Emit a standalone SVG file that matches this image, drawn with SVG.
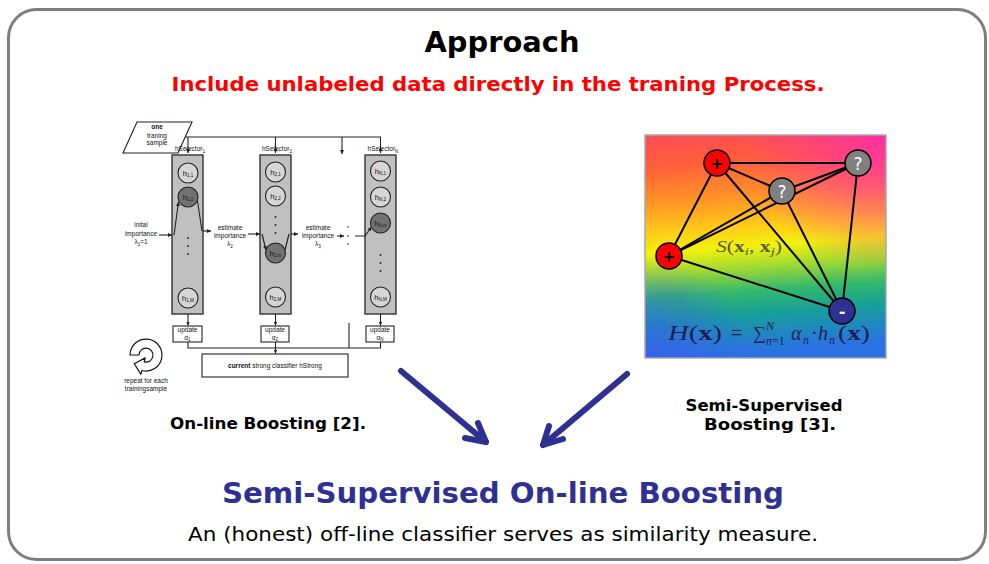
<svg xmlns="http://www.w3.org/2000/svg" width="989" height="564" viewBox="0 0 989 564">
<style>
  .head { font-family: "DejaVu Sans", Verdana, sans-serif; font-weight: bold; text-anchor: middle; }
  .body { font-family: "DejaVu Sans", Verdana, sans-serif; text-anchor: middle; }
  .sm { font-family: "Liberation Sans", Arial, sans-serif; font-size: 6.5px; fill: #111; text-anchor: middle; }
  .hl { font-family: "Liberation Sans", Arial, sans-serif; font-size: 7.5px; fill: #111; text-anchor: middle; }
  .sub { font-size: 4.6px; }
  .col { fill: #c0c0c0; stroke: #333; stroke-width: 1.4; }
  .wk { fill: #d6d6d6; stroke: #222; stroke-width: 1.1; }
  .wkd { fill: #727272; stroke: #222; stroke-width: 1.1; }
  .box { fill: #fff; stroke: #222; stroke-width: 1.1; }
  .ln { fill: none; stroke: #222; stroke-width: 1.1; }
  .dot { fill: #222; }
  .edge { stroke: #000; stroke-width: 2; fill: none; }
  .nd { stroke: #000; stroke-width: 1.5; }
  .ndt { font-family: "DejaVu Sans", Verdana, sans-serif; font-weight: bold; text-anchor: middle; }
  .ndq { font-family: "DejaVu Sans", Verdana, sans-serif; text-anchor: middle; fill: #fff; font-size: 17px; }
  .math { font-family: "Liberation Serif", "DejaVu Serif", serif; }
  .big { fill: none; stroke: #2e3192; stroke-width: 6; stroke-linecap: round; stroke-linejoin: round; }
</style>
<defs>
  <marker id="ah" viewBox="0 0 6 6" refX="6" refY="3" markerWidth="4" markerHeight="4" markerUnits="userSpaceOnUse" orient="auto">
    <path d="M0,0 L6,3 L0,6 Z" fill="#222"/>
  </marker>
  <linearGradient id="rainbow" x1="0" y1="0" x2="0.08" y2="1">
    <stop offset="0" stop-color="#ff4c55"/>
    <stop offset="0.14" stop-color="#ff5e3a"/>
    <stop offset="0.3" stop-color="#ff9228"/>
    <stop offset="0.44" stop-color="#ffcc18"/>
    <stop offset="0.53" stop-color="#f2f20c"/>
    <stop offset="0.63" stop-color="#9cd836"/>
    <stop offset="0.73" stop-color="#33b86c"/>
    <stop offset="0.84" stop-color="#169e9c"/>
    <stop offset="1" stop-color="#2a72e4"/>
  </linearGradient>
  <radialGradient id="pink" cx="1" cy="0" r="0.6">
    <stop offset="0" stop-color="#ff2ea8" stop-opacity="0.95"/>
    <stop offset="1" stop-color="#ff2ea8" stop-opacity="0"/>
  </radialGradient>
  <radialGradient id="blue" cx="0" cy="1" r="0.45">
    <stop offset="0" stop-color="#3a5cf0" stop-opacity="0.8"/>
    <stop offset="1" stop-color="#3a5cf0" stop-opacity="0"/>
  </radialGradient>
</defs>

<rect width="989" height="564" fill="#fff"/>

<!-- slide frame -->
<rect id="frame" x="8.5" y="9.5" width="977" height="550" rx="28" fill="#fff" stroke="#7f7f7f" stroke-width="3"/>

<!-- headings -->
<g id="title">
  <text class="head" x="502" y="52" font-size="29" fill="#000" textLength="155" lengthAdjust="spacingAndGlyphs">Approach</text>
  <text class="head" x="498" y="91" font-size="20" fill="#ff0000" textLength="653" lengthAdjust="spacingAndGlyphs">Include unlabeled data directly in the traning Process.</text>
</g>

<!-- on-line boosting scheme -->
<g id="online-boosting">
  <g id="sample">
    <polygon points="137,122 192,122 178,153 123,153" class="box"/>
    <text class="sm" x="157" y="129" font-weight="bold">one</text>
    <text class="sm" x="157" y="137.5">traning</text>
    <text class="sm" x="157" y="145">sample</text>
  </g>

  <g id="selector-1">
    <rect class="col" x="172" y="155" width="31" height="159"/>
    <circle class="wk" cx="188" cy="173" r="10"/>
    <text class="hl" x="188" y="175.5">h<tspan class="sub" dy="1.5">1,1</tspan></text>
    <circle class="wkd" cx="188" cy="197" r="10"/>
    <text class="hl" x="188" y="199.5">h<tspan class="sub" dy="1.5">1,2</tspan></text>
    <circle class="dot" cx="188" cy="238" r="0.9"/>
    <circle class="dot" cx="188" cy="246" r="0.9"/>
    <circle class="dot" cx="188" cy="254" r="0.9"/>
    <circle class="wk" cx="188" cy="298" r="10"/>
    <text class="hl" x="188" y="300.5">h<tspan class="sub" dy="1.5">1,M</tspan></text>
    <text class="sm" x="190" y="151" text-anchor="start">hSelector<tspan class="sub" dy="1.5">1</tspan></text>
  </g>

  <g id="selector-2">
    <rect class="col" x="260" y="155" width="31" height="159"/>
    <circle class="wk" cx="275.5" cy="172" r="10"/>
    <text class="hl" x="275.5" y="174.5">h<tspan class="sub" dy="1.5">2,1</tspan></text>
    <circle class="wk" cx="275.5" cy="196" r="10"/>
    <text class="hl" x="275.5" y="198.5">h<tspan class="sub" dy="1.5">2,2</tspan></text>
    <circle class="dot" cx="275.5" cy="217" r="0.9"/>
    <circle class="dot" cx="275.5" cy="225" r="0.9"/>
    <circle class="dot" cx="275.5" cy="233" r="0.9"/>
    <circle class="wkd" cx="275.5" cy="253" r="10"/>
    <text class="hl" x="275.5" y="255.5">h<tspan class="sub" dy="1.5">2,m</tspan></text>
    <circle class="wk" cx="275.5" cy="297" r="10"/>
    <text class="hl" x="275.5" y="299.5">h<tspan class="sub" dy="1.5">2,M</tspan></text>
    <text class="sm" x="277" y="151" text-anchor="start">hSelector<tspan class="sub" dy="1.5">2</tspan></text>
  </g>

  <g id="selector-n">
    <rect class="col" x="365" y="155" width="31" height="159"/>
    <circle class="wk" cx="380.5" cy="171" r="10"/>
    <text class="hl" x="380.5" y="173.5">h<tspan class="sub" dy="1.5">N,1</tspan></text>
    <circle class="wk" cx="380.5" cy="197" r="10"/>
    <text class="hl" x="380.5" y="199.5">h<tspan class="sub" dy="1.5">N,2</tspan></text>
    <circle class="wkd" cx="380.5" cy="223" r="10"/>
    <text class="hl" x="380.5" y="225.5">h<tspan class="sub" dy="1.5">N,m</tspan></text>
    <circle class="dot" cx="380.5" cy="255" r="0.9"/>
    <circle class="dot" cx="380.5" cy="263" r="0.9"/>
    <circle class="dot" cx="380.5" cy="271" r="0.9"/>
    <circle class="wk" cx="380.5" cy="297" r="10"/>
    <text class="hl" x="380.5" y="299.5">h<tspan class="sub" dy="1.5">N,M</tspan></text>
    <text class="sm" x="383" y="151" text-anchor="start">hSelector<tspan class="sub" dy="1.5">N</tspan></text>
  </g>

  <g id="importance-labels">
    <text class="sm" x="141" y="227">inital</text>
    <text class="sm" x="141" y="235.5">importance</text>
    <text class="sm" x="141" y="244">λ<tspan class="sub" dy="1.5">1</tspan><tspan dy="-1.5">=1</tspan></text>
    <text class="sm" x="230" y="230">estimate</text>
    <text class="sm" x="230" y="238">importance</text>
    <text class="sm" x="230" y="246">λ<tspan class="sub" dy="1.5">2</tspan></text>
    <text class="sm" x="318" y="230">estimate</text>
    <text class="sm" x="318" y="238">importance</text>
    <text class="sm" x="318" y="246">λ<tspan class="sub" dy="1.5">3</tspan></text>
    <circle class="dot" cx="348" cy="227" r="0.8"/>
    <circle class="dot" cx="348" cy="236" r="0.8"/>
    <circle class="dot" cx="348" cy="244" r="0.8"/>
  </g>

  <g id="updates">
    <rect class="box" x="173" y="326" width="29" height="16"/>
    <text class="sm" x="187.5" y="332">update</text>
    <text class="sm" x="187.5" y="340">α<tspan class="sub" dy="1.2">1</tspan></text>
    <rect class="box" x="261" y="326" width="28" height="16"/>
    <text class="sm" x="275" y="332">update</text>
    <text class="sm" x="275" y="340">α<tspan class="sub" dy="1.2">2</tspan></text>
    <rect class="box" x="366" y="326" width="28" height="16"/>
    <text class="sm" x="380" y="332">update</text>
    <text class="sm" x="380" y="340">α<tspan class="sub" dy="1.2">N</tspan></text>
  </g>

  <g id="strong">
    <rect class="box" x="202" y="354" width="146" height="23"/>
    <text class="sm" x="275" y="368"><tspan font-weight="bold">current</tspan> strong classifier hStrong</text>
  </g>

  <g id="repeat">
    <path d="M130,355 A16,16 0 1 1 141.9,370.5 L140.8,374.3 L134.3,363.8 L145.2,357.9 L144.2,361.8 A7,7 0 1 0 139,355 Z" fill="#fff" stroke="#111" stroke-width="1.2" stroke-linejoin="round"/>
    <text class="sm" x="146" y="383">repeat for each</text>
    <text class="sm" x="146" y="391">trainingsample</text>
  </g>

  <g id="scheme-connectors">
    <path class="ln" d="M185,137 H380.5 V153" marker-end="url(#ah)"/>
    <path class="ln" d="M188,137 V153" marker-end="url(#ah)"/>
    <path class="ln" d="M275.5,137 V153" marker-end="url(#ah)"/>
    <path class="ln" d="M342,137 V154" marker-end="url(#ah)"/>
    <path class="ln" d="M159,235 H172" marker-end="url(#ah)"/>
    <path class="ln" d="M174,235 L178.5,202" marker-end="url(#ah)"/>
    <path class="ln" d="M197.5,201 L202,231"/>
    <path class="ln" d="M203,231 H211" marker-end="url(#ah)"/>
    <path class="ln" d="M248,234 H260" marker-end="url(#ah)"/>
    <path class="ln" d="M262,234 L266,250" marker-end="url(#ah)"/>
    <path class="ln" d="M285,250 L289,234"/>
    <path class="ln" d="M291,234 H298" marker-end="url(#ah)"/>
    <path class="ln" d="M337,236 H344" marker-end="url(#ah)"/>
    <path class="ln" d="M355,236 H365 L371.5,227" marker-end="url(#ah)"/>
    <path class="ln" d="M188,314 V325.5" marker-end="url(#ah)"/>
    <path class="ln" d="M275.5,314 V325.5" marker-end="url(#ah)"/>
    <path class="ln" d="M380.5,314 V325.5" marker-end="url(#ah)"/>
    <path class="ln" d="M188,342 V348 H380.5 V342"/>
    <path class="ln" d="M349,323 V348"/>
    <path class="ln" d="M275.5,342 V353.5" marker-end="url(#ah)"/>
  </g>

  <text class="head" x="268" y="429" font-size="15" fill="#000" textLength="196" lengthAdjust="spacingAndGlyphs">On-line Boosting [2].</text>
</g>

<!-- semi-supervised boosting picture -->
<g id="semi-supervised">
  <rect x="645" y="135" width="241" height="223" fill="url(#rainbow)"/>
  <rect x="645" y="135" width="241" height="223" fill="url(#pink)"/>
  <rect x="645" y="135" width="241" height="223" fill="url(#blue)"/>
  <rect x="645" y="135" width="241" height="223" fill="none" stroke="#a8a8b0" stroke-width="1.5"/>

  <g id="graph-edges">
    <line class="edge" x1="717" y1="163" x2="858" y2="163"/>
    <line class="edge" x1="717" y1="163" x2="782" y2="191"/>
    <line class="edge" x1="717" y1="163" x2="669" y2="256"/>
    <line class="edge" x1="717" y1="163" x2="842" y2="311"/>
    <line class="edge" x1="782" y1="191" x2="858" y2="163"/>
    <line class="edge" x1="782" y1="191" x2="669" y2="256"/>
    <line class="edge" x1="782" y1="191" x2="842" y2="311"/>
    <line class="edge" x1="858" y1="163" x2="669" y2="256"/>
    <line class="edge" x1="858" y1="163" x2="842" y2="311"/>
    <line class="edge" x1="669" y1="256" x2="842" y2="311"/>
  </g>

  <g id="node-pos-a">
    <circle class="nd" cx="717" cy="163" r="13" fill="#ff0000"/>
    <text class="ndt" x="717" y="169" font-size="16" fill="#000">+</text>
  </g>
  <g id="node-unl-a">
    <circle class="nd" cx="782" cy="191" r="13" fill="#808080"/>
    <text class="ndq" x="782" y="197.5">?</text>
  </g>
  <g id="node-unl-b">
    <circle class="nd" cx="858" cy="163" r="13" fill="#808080"/>
    <text class="ndq" x="858" y="169.5">?</text>
  </g>
  <g id="node-pos-b">
    <circle class="nd" cx="669" cy="256" r="13" fill="#ff0000"/>
    <text class="ndt" x="669" y="262" font-size="16" fill="#000">+</text>
  </g>
  <g id="node-neg">
    <circle class="nd" cx="842" cy="311" r="13" fill="#2e3192"/>
    <text class="ndt" x="842" y="317" font-size="16" fill="#fff">-</text>
  </g>

  <text class="math" x="716" y="252" font-size="16" fill="#5a5a3c" textLength="66" lengthAdjust="spacingAndGlyphs"><tspan font-style="italic">S</tspan>(<tspan font-weight="bold">x</tspan><tspan font-style="italic" font-size="11" dy="3">i</tspan><tspan dy="-3">, </tspan><tspan font-weight="bold">x</tspan><tspan font-style="italic" font-size="11" dy="3">j</tspan><tspan dy="-3">)</tspan></text>

  <g id="formula" class="math" fill="#1e1e4e">
    <text x="668" y="340" font-size="20" textLength="54" lengthAdjust="spacingAndGlyphs"><tspan font-style="italic">H</tspan>(<tspan font-weight="bold">x</tspan>)</text>
    <text x="731" y="340" font-size="20">=</text>
    <text x="753" y="339" font-size="18">∑</text>
    <text x="766" y="330" font-size="12" font-style="italic">N</text>
    <text x="766" y="345" font-size="12"><tspan font-style="italic">n</tspan>=1</text>
    <text x="791" y="340" font-size="20" font-style="italic">α</text>
    <text x="803" y="344" font-size="12" font-style="italic">n</text>
    <text x="811" y="340" font-size="20">·</text>
    <text x="818" y="340" font-size="20" font-style="italic">h</text>
    <text x="829" y="344" font-size="12" font-style="italic">n</text>
    <text x="838" y="340" font-size="20" textLength="32" lengthAdjust="spacingAndGlyphs">(<tspan font-weight="bold">x</tspan>)</text>
  </g>

  <text class="head" x="764" y="411" font-size="15" fill="#000" textLength="157" lengthAdjust="spacingAndGlyphs">Semi-Supervised</text>
  <text class="head" x="770" y="430" font-size="15" fill="#000" textLength="132" lengthAdjust="spacingAndGlyphs">Boosting [3].</text>
</g>

<!-- merging arrows -->
<g id="connectors">
  <path class="big" d="M401,371 L486,442"/>
  <path class="big" d="M465,438 L486,442 L478,423"/>
  <path class="big" d="M627,374 L543,445"/>
  <path class="big" d="M563,439 L543,445 L549,426"/>
</g>

<g id="result">
  <text class="head" x="503" y="503" font-size="28" fill="#2e3192" textLength="562" lengthAdjust="spacingAndGlyphs">Semi-Supervised On-line Boosting</text>
  <text class="body" x="503" y="541" font-size="19" fill="#000" textLength="630" lengthAdjust="spacingAndGlyphs">An (honest) off-line classifier serves as similarity measure.</text>
</g>
</svg>
